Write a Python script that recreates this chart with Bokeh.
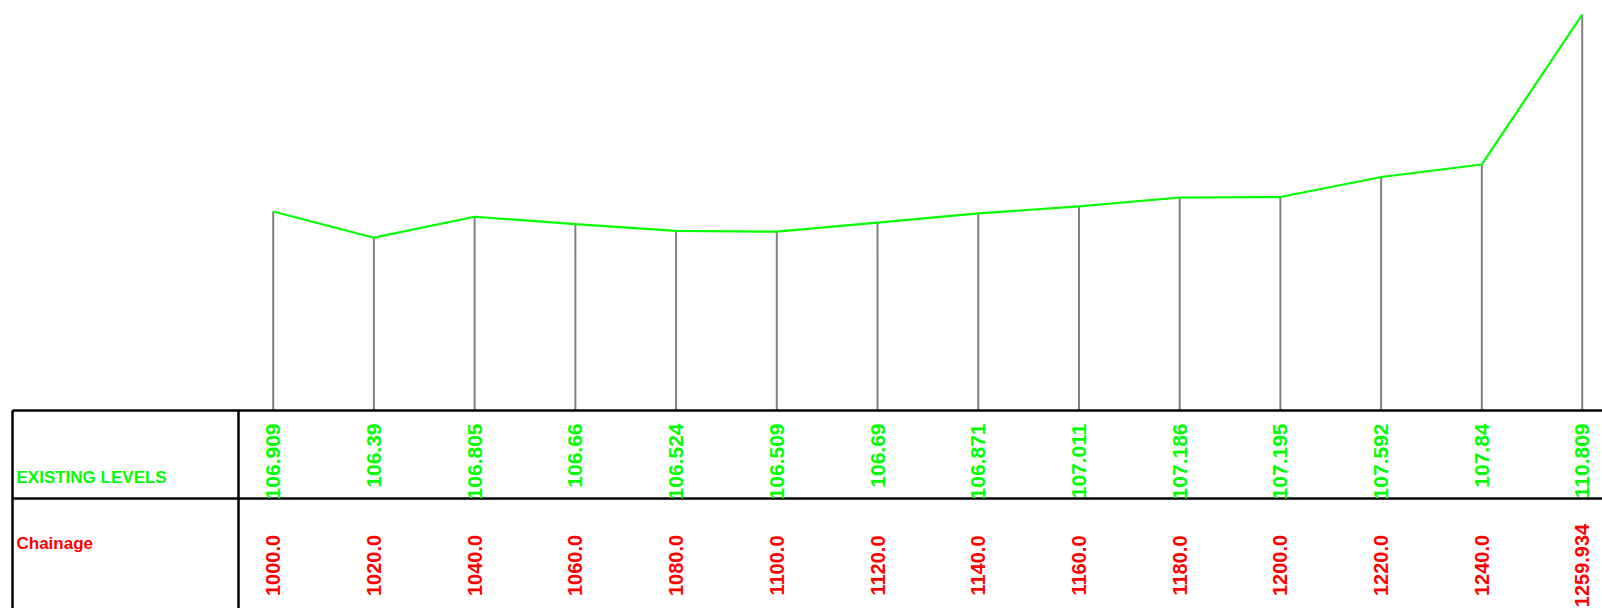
import math
from bokeh.plotting import figure
from bokeh.models import Range1d, ColumnDataSource
from bokeh.embed import file_html
from bokeh.resources import INLINE
from bokeh.core.properties import value

# ---- data ----
chainage = [1000.0, 1020.0, 1040.0, 1060.0, 1080.0, 1100.0, 1120.0,
            1140.0, 1160.0, 1180.0, 1200.0, 1220.0, 1240.0, 1259.934]
levels = [106.909, 106.39, 106.805, 106.66, 106.524, 106.509, 106.69,
          106.871, 107.011, 107.186, 107.195, 107.592, 107.84, 110.809]
chainage_labels = ["1000.0", "1020.0", "1040.0", "1060.0", "1080.0", "1100.0", "1120.0",
                   "1140.0", "1160.0", "1180.0", "1200.0", "1220.0", "1240.0", "1259.934"]
level_labels = ["106.909", "106.39", "106.805", "106.66", "106.524", "106.509", "106.69",
                "106.871", "107.011", "107.186", "107.195", "107.592", "107.84", "110.809"]
row_titles = ["EXISTING LEVELS", "Chainage"]

# ---- layout constants ----
W, H = 1602, 608
DATUM = 102.968
X_START, X_END = 945.85, 1263.96
Y_BOTTOM, Y_TOP = 99.047, 111.087

GREEN = "#00ff00"
RED = "#ff0000"
GRAY = "#808080"
FONT = value("Liberation Sans")

p = figure(width=W, height=H, output_backend="svg", toolbar_location=None,
           x_range=Range1d(X_START, X_END), y_range=Range1d(Y_BOTTOM, Y_TOP),
           x_axis_location=None, y_axis_location=None, min_border=0,
           background_fill_color="white", border_fill_color="white")
p.outline_line_color = None
p.xgrid.visible = False
p.ygrid.visible = False

# pixel-space ranges for the table frame
p.extra_x_ranges = {"px": Range1d(0, W)}
p.extra_y_ranges = {"px": Range1d(H, 0)}

src = ColumnDataSource(dict(x=chainage, y=levels, y0=[DATUM] * len(chainage)))

# vertical station lines
p.segment(x0="x", y0="y0", x1="x", y1="y", source=src, line_color=GRAY, line_width=2)
# existing ground line
p.line(x="x", y="y", source=src, line_color=GREEN, line_width=2.2)

# table frame
TOP, MID = 410, 498
LEFT, DIV = 12, 238
p.segment(x0=[LEFT, LEFT], y0=[TOP, MID], x1=[W, W], y1=[TOP, MID],
          x_range_name="px", y_range_name="px", line_color="black", line_width=2.5)
p.segment(x0=[LEFT, DIV], y0=[TOP, TOP], x1=[LEFT, DIV], y1=[H, H],
          x_range_name="px", y_range_name="px", line_color="black", line_width=2.5)

# row titles
p.text(x=[16], y=[476.5], text=[row_titles[0]], x_range_name="px", y_range_name="px",
       text_color=GREEN, text_font=FONT, text_font_style="bold",
       text_font_size="17px", text_baseline="alphabetic", text_align="left")
p.text(x=[16], y=[542.5], text=[row_titles[1]], x_range_name="px", y_range_name="px",
       text_color=RED, text_font=FONT, text_font_style="bold",
       text_font_size="17px", text_baseline="alphabetic", text_align="left")

# rotated values
n = len(chainage)
lsrc = ColumnDataSource(dict(x=chainage, yl=[423] * n, yc=[565] * n,
                             lev=level_labels, ch=chainage_labels))
p.text(x="x", y="yl", text="lev", source=lsrc, y_range_name="px", angle=math.pi / 2,
       text_color=GREEN, text_font=FONT, text_font_style="bold",
       text_font_size="21px", text_align="right", text_baseline="middle")
p.text(x="x", y="yc", text="ch", source=lsrc, y_range_name="px", angle=math.pi / 2,
       text_color=RED, text_font=FONT, text_font_style="bold",
       text_font_size="20px", text_align="center", text_baseline="middle")

open("out.html", "w").write(file_html(p, INLINE))
